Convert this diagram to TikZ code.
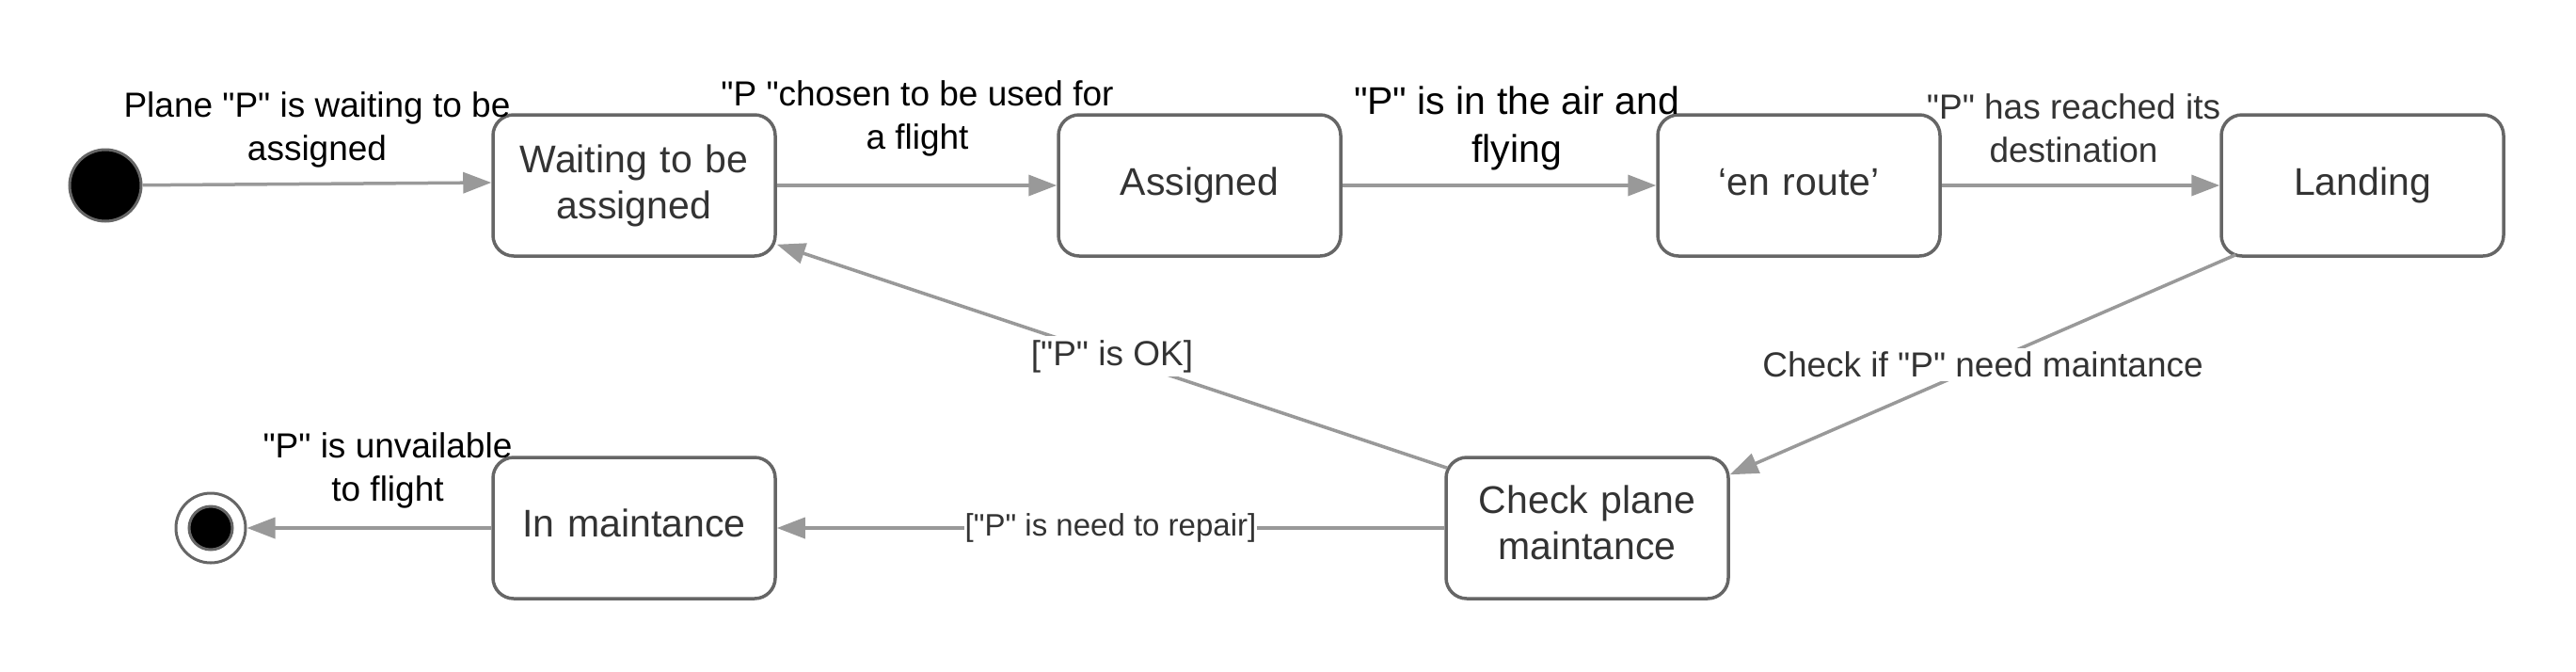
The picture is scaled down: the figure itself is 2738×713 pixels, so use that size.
\documentclass[tikz,border=0pt]{standalone}
\usepackage{fontspec}
\setmainfont{Liberation Sans}
\newfontfamily\lib{Liberation Sans}
\usetikzlibrary{arrows.meta}
\definecolor{edgec}{HTML}{999999}
\definecolor{boxc}{HTML}{666666}
\definecolor{txtc}{HTML}{333333}
\tikzset{
  state/.style={draw=boxc, line width=3.5pt, rounded corners=22pt, minimum width=300pt, minimum height=150pt, text width=280pt, align=center, font=\lib\fontsize{41}{49}\selectfont, text=txtc, inner sep=0pt, fill=white},
  trans/.style={draw=edgec, line width=3.5pt, -{Triangle[length=30pt,width=22pt]}},
  lbl/.style={font=\lib\fontsize{37}{46}\selectfont, align=center, text=black, inner sep=2pt},
  glbl/.style={lbl, text=txtc, fill=white, inner sep=4pt},
  dot/.style={draw=boxc, circle, line width=3pt, inner sep=0pt},
}
\begin{document}
\begin{tikzpicture}[x=1pt,y=-1pt]
\useasboundingbox (0,0) rectangle (2738,713);
\node[state] (w1) at (674,197) {Waiting to be\\assigned};
\node[state] (as) at (1275,197) {Assigned};
\node[state] (er) at (1912,197) {\raisebox{3pt}[\height][\depth]{‘en route’}};
\node[state] (ld) at (2511,197) {Landing};
\node[state] (ck) at (1687,561) {\raisebox{6pt}[\height][\depth]{\parbox{280pt}{\centering Check plane\\maintance}}};
\node[state] (im) at (674,561) {\raisebox{5pt}[\height][\depth]{In maintance}};
\node[dot, fill=black, minimum size=76pt] (init) at (112,197) {};
\node[dot, fill=white, minimum size=74pt] (fin) at (224,561) {};
\node[dot, fill=black, minimum size=46pt] (finin) at (224,561) {};

\draw[trans] (init) -- ([yshift=3pt]w1.west);
\draw[trans] (w1) -- (as);
\draw[trans] (as) -- (er);
\draw[trans] (er) -- (ld);
\draw[trans] ([xshift=17pt,yshift=3pt]ld.south west) -- node[glbl, pos=0.5] (lck) {Check if "P" need maintance} ([yshift=-20pt]ck.north east);
\draw[trans] ([xshift=3pt,yshift=-13pt]ck.north west) -- node[glbl, pos=0.5] (lok) {["P" is OK]} ([yshift=14pt]w1.south east);
\draw[trans] (ck.west) -- node[glbl, font=\lib\fontsize{33}{40}\selectfont, inner sep=1pt, pos=0.5] (lrep) {["P" is need to repair]} (im.east);
\draw[trans] (im) -- (fin);

\node[lbl] (l1) at (337,138) {Plane "P" is waiting to be\\assigned};
\node[lbl] (l2) at (975,126) {"P "chosen to be used for\\a flight};
\node[lbl, font=\lib\fontsize{41}{51}\selectfont] (l3) at (1612,136) {"P" is in the air and\\flying};
\node[lbl, text=txtc] (l4) at (2204,136) {"P" has reached its\\destination};
\node[lbl] (l8) at (412,500) {"P" is unvailable\\to flight};
\end{tikzpicture}
\end{document}
